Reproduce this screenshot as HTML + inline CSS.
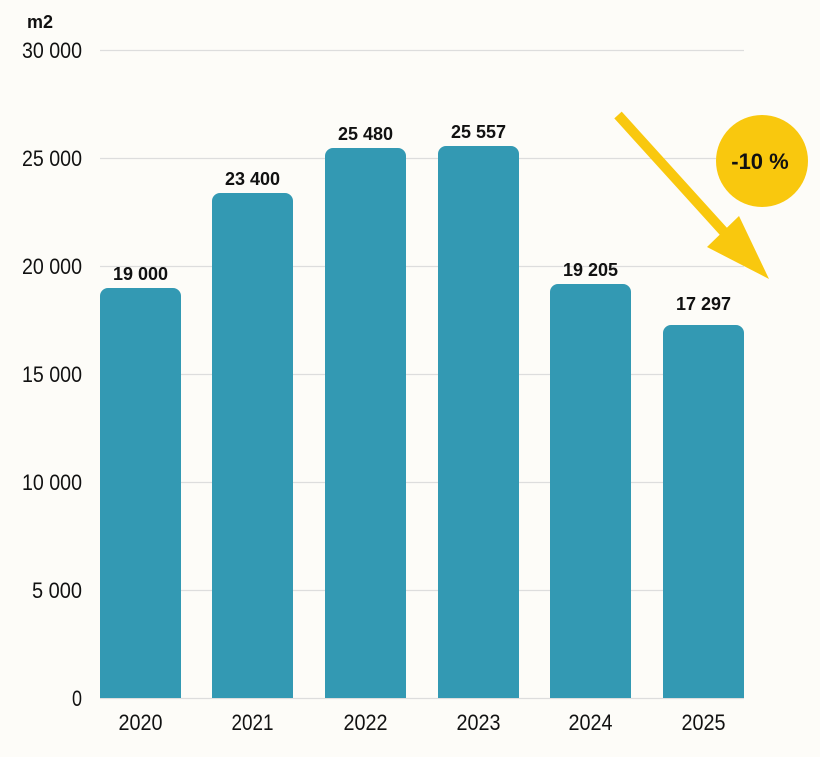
<!DOCTYPE html>
<html><head><meta charset="utf-8"><style>
html,body{margin:0;padding:0;background:#fdfcf8;}
svg{display:block;}
.t{font-family:"Liberation Sans Narrow","Liberation Sans",sans-serif;font-size:22px;fill:#111;}
.v{font-family:"Liberation Sans",sans-serif;font-size:18px;font-weight:bold;fill:#111;}
</style></head><body>
<svg width="820" height="757" viewBox="0 0 820 757">
<rect width="820" height="757" fill="#fdfcf8"/>
<g stroke="#dddddd" stroke-width="1.2">
<line x1="100" x2="744" y1="50.5" y2="50.5"/>
<line x1="100" x2="744" y1="158.5" y2="158.5"/>
<line x1="100" x2="744" y1="266.5" y2="266.5"/>
<line x1="100" x2="744" y1="374.5" y2="374.5"/>
<line x1="100" x2="744" y1="482.5" y2="482.5"/>
<line x1="100" x2="744" y1="590.5" y2="590.5"/>
<line x1="100" x2="744" y1="698.5" y2="698.5"/>
</g>
<text x="27" y="28" class="v" style="font-size:18px">m2</text>
<g class="t" text-anchor="end">
<text x="82" y="58" textLength="60" lengthAdjust="spacingAndGlyphs">30 000</text>
<text x="82" y="166" textLength="60" lengthAdjust="spacingAndGlyphs">25 000</text>
<text x="82" y="274" textLength="60" lengthAdjust="spacingAndGlyphs">20 000</text>
<text x="82" y="382" textLength="60" lengthAdjust="spacingAndGlyphs">15 000</text>
<text x="82" y="490" textLength="60" lengthAdjust="spacingAndGlyphs">10 000</text>
<text x="82" y="598" textLength="50" lengthAdjust="spacingAndGlyphs">5 000</text>
<text x="82" y="706" textLength="10" lengthAdjust="spacingAndGlyphs">0</text>
</g>
<g fill="#3399b3">
<path d="M100,698 V296 a8,8 0 0 1 8,-8 H173 a8,8 0 0 1 8,8 V698Z"/>
<path d="M212,698 V201 a8,8 0 0 1 8,-8 H285 a8,8 0 0 1 8,8 V698Z"/>
<path d="M325,698 V156 a8,8 0 0 1 8,-8 H398 a8,8 0 0 1 8,8 V698Z"/>
<path d="M438,698 V154 a8,8 0 0 1 8,-8 H511 a8,8 0 0 1 8,8 V698Z"/>
<path d="M550,698 V292 a8,8 0 0 1 8,-8 H623 a8,8 0 0 1 8,8 V698Z"/>
<path d="M663,698 V333 a8,8 0 0 1 8,-8 H736 a8,8 0 0 1 8,8 V698Z"/>
</g>
<g class="v" text-anchor="middle">
<text x="140.5" y="280">19 000</text>
<text x="252.5" y="185">23 400</text>
<text x="365.5" y="140">25 480</text>
<text x="478.5" y="138">25 557</text>
<text x="590.5" y="276">19 205</text>
<text x="703.5" y="310">17 297</text>
</g>
<g class="t" text-anchor="middle">
<text x="140.5" y="730" textLength="44" lengthAdjust="spacingAndGlyphs">2020</text>
<text x="252.5" y="730" textLength="42" lengthAdjust="spacingAndGlyphs">2021</text>
<text x="365.5" y="730" textLength="44" lengthAdjust="spacingAndGlyphs">2022</text>
<text x="478.5" y="730" textLength="44" lengthAdjust="spacingAndGlyphs">2023</text>
<text x="590.5" y="730" textLength="44" lengthAdjust="spacingAndGlyphs">2024</text>
<text x="703.5" y="730" textLength="44" lengthAdjust="spacingAndGlyphs">2025</text>
</g>
<circle cx="762" cy="161" r="46" fill="#f9c80e"/>
<text x="760" y="169" class="v" text-anchor="middle" style="font-size:22px">-10 %</text>
<line x1="618" y1="115" x2="724" y2="232" stroke="#f9c80e" stroke-width="10"/>
<polygon points="707,247 739,216 769,279" fill="#f9c80e"/>
</svg>
</body></html>
